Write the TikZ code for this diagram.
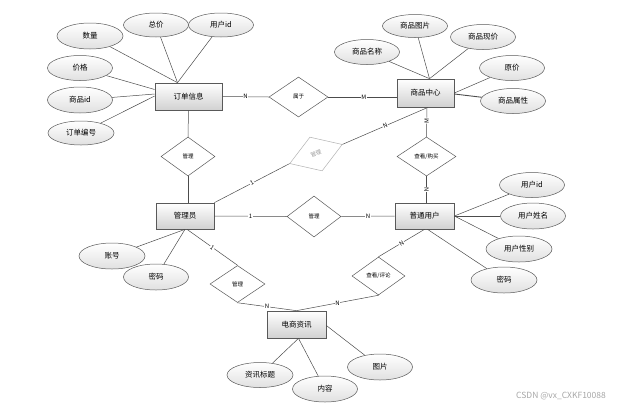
\documentclass[tikz,border=0pt]{standalone}
\usepackage{fontspec}
\newfontfamily\cjk{Noto Sans CJK SC}
\usetikzlibrary{shapes.geometric}
\begin{document}
\begin{tikzpicture}[x=1pt,y=-1pt,
  ent/.style={rectangle, draw=black!65, line width=0.7pt, top color=white, bottom color=black!18,
    minimum width=58pt, minimum height=27pt, inner sep=0pt, font=\cjk\fontsize{7.5}{8}\selectfont},
  attr/.style={ellipse, draw=black!65, line width=0.5pt, top color=white, bottom color=black!12,
    minimum width=65pt, minimum height=25pt, inner sep=0pt, font=\cjk\fontsize{7.5}{8}\selectfont},
  rel/.style={diamond, draw=black!65, fill=white, line width=0.5pt, minimum width=54pt,
    minimum height=39pt, inner sep=0pt, font=\cjk\fontsize{5.5}{6}\selectfont},
  conn/.style={draw=black!70, line width=0.5pt},
  card/.style={fill=white, inner sep=0.6pt, font=\cjk\fontsize{6}{6}\selectfont}]
\useasboundingbox (0,0) rectangle (628,410);

% entities
\node[ent, minimum width=67pt] (ddxx) at (188.5,96.5) {订单信息};
\node[ent, minimum width=57pt, minimum height=28pt] (spzx) at (425.5,93) {商品中心};
\node[ent, minimum height=26pt] (gly) at (185,216) {管理员};
\node[ent, minimum width=59pt, minimum height=26pt] (ptyh) at (424.5,216) {普通用户};
\node[ent, minimum width=59pt] (dszx) at (296.5,324.5) {电商资讯};

% relations
\node[rel, minimum width=59pt, minimum height=40pt] (r1) at (298.5,97) {属于};
\node[rel] (r2) at (188,156.5) {管理};
\node[rel, draw=black!30, minimum width=56pt, minimum height=36pt, rotate=20, text=black!40] (r3) at (316,154) {管理};
\node[rel, minimum width=59pt] (r4) at (426.5,156.5) {查看/购买};
\node[rel, minimum height=41pt] (r5) at (314,216.5) {管理};
\node[rel, minimum width=55pt, minimum height=37pt] (r6) at (237.5,284) {管理};
\node[rel, minimum width=53pt, minimum height=38pt] (r7) at (378.5,276) {查看/评论};

% attributes of 订单信息
\node[attr, minimum width=66pt, minimum height=26pt] (a1) at (90,36) {数量};
\node[attr, minimum height=24pt] (a2) at (156,25) {总价};
\node[attr, minimum height=24pt] (a3) at (221,25) {用户id};
\node[attr] (a4) at (80,68) {价格};
\node[attr, minimum height=26pt] (a5) at (80,100) {商品id};
\node[attr, minimum width=66pt, minimum height=24pt] (a6) at (81,133) {订单编号};
% attributes of 商品中心
\node[attr, minimum height=23pt] (b1) at (415,26) {商品图片};
\node[attr] (b2) at (483,37) {商品现价};
\node[attr] (b3) at (367,52) {商品名称};
\node[attr] (b4) at (512,68) {原价};
\node[attr] (b5) at (513,101) {商品属性};
% attributes of 管理员
\node[attr, minimum width=66pt, minimum height=26pt] (c1) at (112,256) {账号};
\node[attr, minimum height=26pt] (c2) at (156,277) {密码};
% attributes of 普通用户
\node[attr] (e1) at (532,185) {用户id};
\node[attr, minimum height=26pt] (e2) at (533,216) {用户姓名};
\node[attr, minimum width=66pt, minimum height=26pt] (e3) at (519,249) {用户性别};
\node[attr, minimum width=66pt, minimum height=26pt] (e4) at (504,280) {密码};
% attributes of 电商资讯
\node[attr, minimum width=66pt] (f1) at (260,375) {资讯标题};
\node[attr, minimum height=26pt] (f2) at (325,389) {内容};
\node[attr, minimum height=26pt] (f3) at (380,367) {图片};

% attribute connectors
\draw[conn] (a1) -- ([xshift=-11pt]ddxx.north);
\draw[conn] (a2) -- ([xshift=-11pt]ddxx.north);
\draw[conn] (a3) -- ([xshift=-11pt]ddxx.north);
\draw[conn] (a4) -- ([yshift=7pt]ddxx.west);
\draw[conn] (a5) -- ([yshift=2.5pt]ddxx.west);
\draw[conn] (a6) -- ([yshift=0.5pt]ddxx.west);

\draw[conn] (b1) -- ([xshift=4pt]spzx.north);
\draw[conn] (b2) -- ([xshift=4pt]spzx.north);
\draw[conn] (b3) -- ([xshift=4pt]spzx.north);
\draw[conn] (b4) -- (spzx.east);
\draw[conn, line width=0.9pt] (b5) -- ([yshift=-1pt]spzx.east);

\draw[conn] (c1) -- (gly.south);
\draw[conn] (c2) -- (gly.south);

\draw[conn] (e1) -- (ptyh.east);
\draw[conn] (e2) -- (ptyh.east);
\draw[conn] (e3) -- (ptyh.east);
\draw[conn] (e4) -- ([xshift=3pt]ptyh.south);

\draw[conn] (f1) -- ([xshift=2pt]dszx.south);
\draw[conn] (f2) -- ([xshift=2pt]dszx.south);
\draw[conn] (f3) -- ([yshift=-1pt]dszx.east);

% relationship connectors
\draw[conn] (ddxx.east) -- node[card, pos=0.5] {N} (r1.west);
\draw[conn] (r1.east) -- node[card, pos=0.52] {M} (spzx.west |- r1.east);
\draw[conn] (ddxx.south) -- (r2.north);
\draw[conn] (r2.south) -- (r2.south |- gly.north);
\draw[conn] (gly.north east) -- node[card, pos=0.5, sloped] {1} (r3.west);
\draw[conn] (r3.east) -- node[card, pos=0.5, sloped] {N} ([xshift=2.5pt]spzx.south);
\draw[conn] ([xshift=1.5pt]spzx.south) -- node[card, pos=0.45, sloped] {M} (r4.north);
\draw[conn] (r4.south) -- node[card, pos=0.5, sloped] {N} (r4.south |- ptyh.north);
\draw[conn] (gly.east) -- node[card, pos=0.5] {1} (r5.west);
\draw[conn] (r5.east) -- node[card, pos=0.5] {N} (ptyh.west);
\draw[conn] ([xshift=2pt]gly.south) -- node[card, pos=0.5, sloped] {1} (r6.north);
\draw[conn] (r6.south) -- node[card, pos=0.5] {N} (dszx.north);
\draw[conn] (ptyh.south) -- node[card, pos=0.5, sloped] {N} (r7.north);
\draw[conn] (r7.south) -- node[card, pos=0.5] {N} (dszx.north);

% watermark
\node[text=black!35, font=\cjk\fontsize{8.5}{9}\selectfont] (wm) at (561,396) {CSDN @vx\_CXKF10088};
\end{tikzpicture}
\end{document}
